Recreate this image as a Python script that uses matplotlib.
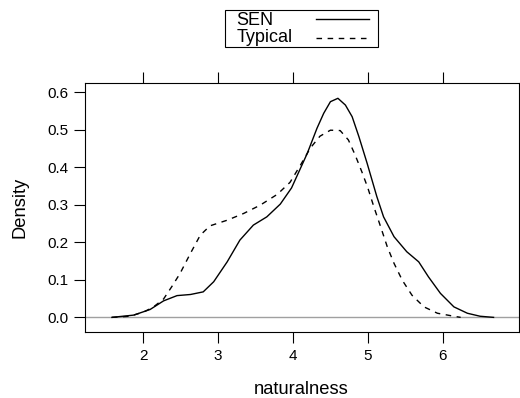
import matplotlib
matplotlib.use("Agg")
import matplotlib.pyplot as plt
from matplotlib.lines import Line2D
from matplotlib.patches import Rectangle

plt.rcParams["font.family"] = ["Liberation Sans", "DejaVu Sans"]

# density curves
sen_x = [1.58, 1.87, 2.09, 2.27, 2.45, 2.63, 2.80, 2.94, 3.12, 3.29, 3.47, 3.65,
         3.83, 3.98, 4.19, 4.32, 4.41, 4.50, 4.60, 4.70, 4.79, 4.88, 4.99, 5.12,
         5.21, 5.35, 5.52, 5.68, 5.81, 5.97, 6.15, 6.33, 6.50, 6.68]
sen_y = [0.0, 0.006, 0.021, 0.044, 0.058, 0.061, 0.068, 0.095, 0.148, 0.206,
         0.246, 0.268, 0.302, 0.345, 0.437, 0.504, 0.544, 0.575, 0.584, 0.566,
         0.535, 0.482, 0.411, 0.322, 0.268, 0.215, 0.175, 0.148, 0.108, 0.064,
         0.028, 0.011, 0.003, 0.0]

typ_x = [1.58, 1.82, 2.00, 2.13, 2.27, 2.38, 2.49, 2.63, 2.76, 2.89, 3.12, 3.34,
         3.56, 3.79, 3.96, 4.10, 4.23, 4.36, 4.50, 4.63, 4.74, 4.83, 4.92, 5.00,
         5.08, 5.17, 5.26, 5.35, 5.46, 5.59, 5.75, 5.93, 6.15, 6.24]
typ_y = [0.0, 0.003, 0.014, 0.027, 0.049, 0.082, 0.117, 0.171, 0.219, 0.244,
         0.259, 0.277, 0.299, 0.328, 0.360, 0.406, 0.451, 0.483, 0.499, 0.498,
         0.473, 0.433, 0.388, 0.345, 0.295, 0.242, 0.188, 0.144, 0.099, 0.059,
         0.028, 0.011, 0.003, 0.0]

x_ticks = [2, 3, 4, 5, 6]
y_ticks = [0.0, 0.1, 0.2, 0.3, 0.4, 0.5, 0.6]
groups = ["SEN", "Typical"]
dash = (0, (4, 4))

W, H = 520, 398
fig = plt.figure(figsize=(W / 100, H / 100), dpi=100)
ax = fig.add_axes([85 / W, 1 - 332 / H, 434 / W, 248.7 / H])

ax.axhline(0, color="#a0a0a0", lw=1)
ax.plot(sen_x, sen_y, color="black", lw=1)
ax.plot(typ_x, typ_y, color="black", lw=1, ls=dash)

ax.set_xlim(1.22, 7.02)
ax.set_ylim(-0.039, 0.624)
ax.set_xticks(x_ticks)
ax.set_yticks(y_ticks)
ax.set_yticklabels([f"{v:.1f}" for v in y_ticks])
ax.tick_params(axis="both", direction="out", length=8, width=0.8, labelsize=11,
               pad=4)
ax.tick_params(axis="x", top=True)
for s in ax.spines.values():
    s.set_linewidth(0.8)

# axis titles placed like lattice does
fig.text(301.5 / W, 1 - 394 / H, "naturalness", fontsize=13.2, ha="center",
         va="baseline")
fig.text(20.3 / W, 1 - 207.3 / H, "Density", fontsize=13.2, rotation=90,
         ha="center", va="center")

# key drawn by hand: text on the left, line sample on the right
fig.add_artist(Rectangle((225 / W, 1 - 46.7 / H), 152.7 / W, 36.7 / H,
                         transform=fig.transFigure, fill=False, ec="black", lw=0.8))
for name, base, ly, ls in zip(groups, [25, 42.3], [19.3, 38.3], ["-", dash]):
    fig.text(236.7 / W, 1 - base / H, name, fontsize=13, va="baseline", ha="left")
    fig.add_artist(Line2D([316 / W, 369 / W], [1 - ly / H, 1 - ly / H],
                          transform=fig.transFigure, color="black", lw=1, ls=ls))

fig.savefig("out.png", dpi=100)
